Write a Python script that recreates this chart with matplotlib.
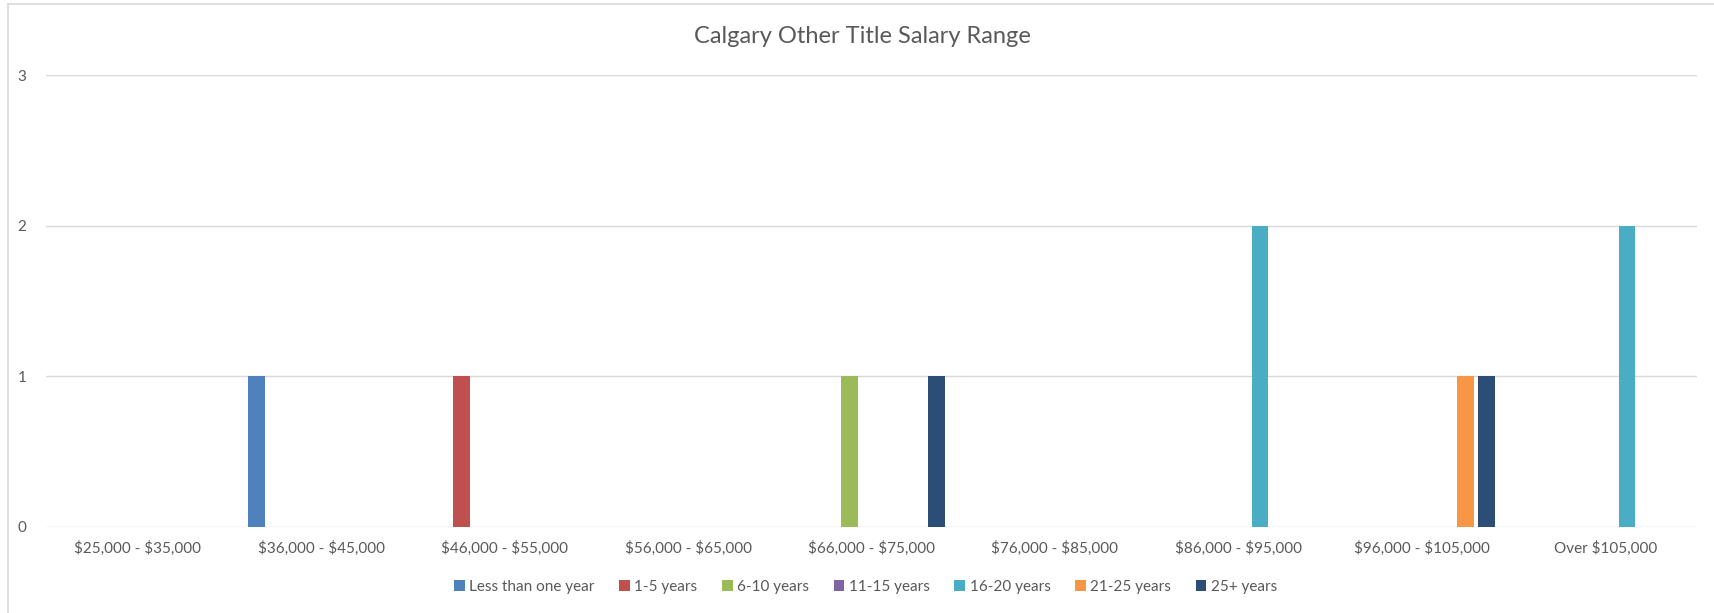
import numpy as np
import matplotlib.pyplot as plt
from matplotlib.lines import Line2D

plt.rcParams['font.family'] = ['Lato', 'DejaVu Sans']
plt.rcParams['text.parse_math'] = False

categories = ['$25,000 - $35,000', '$36,000 - $45,000', '$46,000 - $55,000',
              '$56,000 - $65,000', '$66,000 - $75,000', '$76,000 - $85,000',
              '$86,000 - $95,000', '$96,000 - $105,000', 'Over $105,000']
series_names = ['Less than one year', '1-5 years', '6-10 years', '11-15 years',
                '16-20 years', '21-25 years', '25+ years']

less_than_one = [0, 1, 0, 0, 0, 0, 0, 0, 0]
yrs_1_5 = [0, 0, 1, 0, 0, 0, 0, 0, 0]
yrs_6_10 = [0, 0, 0, 0, 1, 0, 0, 0, 0]
yrs_11_15 = [0, 0, 0, 0, 0, 0, 0, 0, 0]
yrs_16_20 = [0, 0, 0, 0, 0, 0, 2, 0, 2]
yrs_21_25 = [0, 0, 0, 0, 0, 0, 0, 1, 0]
yrs_25_plus = [0, 0, 0, 0, 1, 0, 0, 1, 0]

series_vals = [less_than_one, yrs_1_5, yrs_6_10, yrs_11_15, yrs_16_20, yrs_21_25, yrs_25_plus]
colors = ['#4F81BD', '#C0504D', '#9BBB59', '#8064A2', '#4BACC6', '#F79646', '#2C4D75']

fig = plt.figure(figsize=(17.14, 6.13), dpi=100)
ax = fig.add_axes([0.0268, 0.1403, 0.9633, 0.7367])

x = np.arange(len(categories))
step = 0.118
width = 0.092
for i, (name, vals) in enumerate(zip(series_names, series_vals)):
    ax.bar(x + (i - 3) * step, vals, width=width, color=colors[i], label=name, zorder=3)

ax.set_xlim(-0.5, len(categories) - 0.5)
ax.set_ylim(0, 3)
ax.set_yticks([0, 1, 2, 3])
ax.set_xticks(x)
ax.set_xticklabels(categories)
ax.grid(axis='y', color='#d9d9d9', linewidth=1.0, zorder=0)
for s in ax.spines.values():
    s.set_visible(False)
ax.tick_params(axis='both', length=0, labelsize=11, colors='#595959')
ax.tick_params(axis='x', pad=10)
ax.tick_params(axis='y', pad=14)

fig.text(0.503, 0.941, 'Calgary Other Title Salary Range', ha='center', va='center',
         fontsize=17, color='#595959')

leg = fig.legend(loc='center', bbox_to_anchor=(0.505, 0.043), ncol=7, frameon=False,
                 fontsize=11, handlelength=0.7, handleheight=0.7, handletextpad=0.3,
                 columnspacing=1.6)
for t in leg.get_texts():
    t.set_color('#595959')

# chart border: only left and top edges are visible in the reference
fig.lines.append(Line2D([0.0045, 0.0045], [0.0, 0.993], transform=fig.transFigure,
                        color='#d9d9d9', linewidth=1.2))
fig.lines.append(Line2D([0.0045, 1.0], [0.993, 0.993], transform=fig.transFigure,
                        color='#d9d9d9', linewidth=1.2))

fig.savefig('out.png', dpi=100)
